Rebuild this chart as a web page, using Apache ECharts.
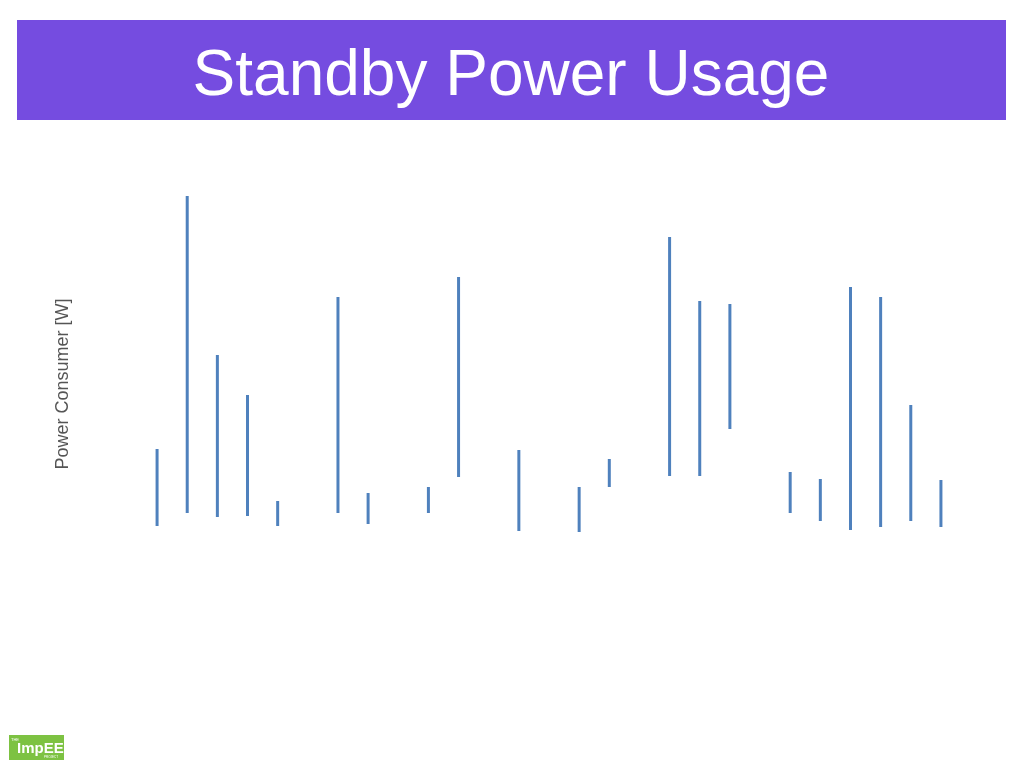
<!DOCTYPE html>
<html>
<head>
<meta charset="utf-8">
<script src="https://cdn.jsdelivr.net/npm/echarts@6/dist/echarts.min.js"></script>
<style>html,body{margin:0;padding:0;background:#fff}#c{width:1024px;height:768px}</style>
</head>
<body>
<div id="c"></div>
<script>
var categories = ['1','2','3','4','5','6','7','8','9','10','11','12','13','14','15','16','17','18','19','20','21','22','23','24','25','26','27'];
var lowValues  = [5.8, 7.1, 6.7, 6.8, 5.8, null, 7.1, 6.0, null, 7.1, 10.7, null, 5.3, null, 5.2, 9.7, null, 10.8, 10.8, 15.5, null, 7.1, 6.3, 5.4, 5.7, 6.3, 5.7];
var highValues = [13.5, 38.8, 22.9, 18.9, 8.3, null, 28.7, 9.1, null, 9.7, 30.7, null, 13.4, null, 9.7, 12.5, null, 34.7, 28.3, 28.0, null, 11.2, 10.5, 29.7, 28.7, 17.9, 10.4];
var titleText = 'Standby Power Usage';
var yAxisName = 'Power Consumer [W]';

var rangeValues = highValues.map(function (h, i) {
  return (h == null || lowValues[i] == null) ? null : +(h - lowValues[i]).toFixed(2);
});

var chart = echarts.init(document.getElementById('c'), null, {renderer: 'canvas'});
chart.setOption({
  backgroundColor: '#ffffff',
  animation: false,
  grid: {left: 142, width: 814, top: 184, height: 400},
  xAxis: {
    type: 'category', data: categories, boundaryGap: true,
    axisLine: {show: false}, axisTick: {show: false}, axisLabel: {show: false}, splitLine: {show: false}
  },
  yAxis: {
    type: 'value', min: 0, max: 40,
    name: yAxisName, nameLocation: 'middle', nameRotate: 90, nameGap: 70,
    nameTextStyle: {fontFamily: 'Liberation Sans, Arial, sans-serif', fontSize: 18, color: '#555555'},
    axisLine: {show: false}, axisTick: {show: false}, axisLabel: {show: false}, splitLine: {show: false}
  },
  series: [
    {
      type: 'bar', stack: 'r', data: lowValues, barWidth: 3, silent: true,
      itemStyle: {color: 'rgba(0,0,0,0)'}
    },
    {
      type: 'bar', stack: 'r', data: rangeValues, barWidth: 3, silent: true,
      itemStyle: {color: '#4F81BD'}
    }
  ],
  graphic: [
    {type: 'rect', left: 17, top: 20, shape: {width: 989, height: 100}, style: {fill: '#754CE0'}, z: 1},
    {type: 'text', x: 511, y: 77, style: {text: titleText, fill: '#ffffff', font: '64px "Liberation Sans", Arial, sans-serif', align: 'center', verticalAlign: 'middle'}, z: 2},
    {type: 'rect', left: 9, top: 735, shape: {width: 55, height: 25}, style: {fill: '#7DC242'}, z: 1},
    {type: 'text', x: 17, y: 749, style: {text: 'ImpEE', fill: '#ffffff', font: 'bold 15px "Liberation Sans", Arial, sans-serif', align: 'left', verticalAlign: 'middle'}, z: 2},
    {type: 'text', x: 11, y: 740, style: {text: 'THE', fill: '#ffffff', font: '4px "Liberation Sans", Arial, sans-serif', align: 'left', verticalAlign: 'middle'}, z: 2},
    {type: 'text', x: 44, y: 757, style: {text: 'PROJECT', fill: '#ffffff', font: '3px "Liberation Sans", Arial, sans-serif', align: 'left', verticalAlign: 'middle'}, z: 2}
  ]
});
</script>
</body>
</html>
